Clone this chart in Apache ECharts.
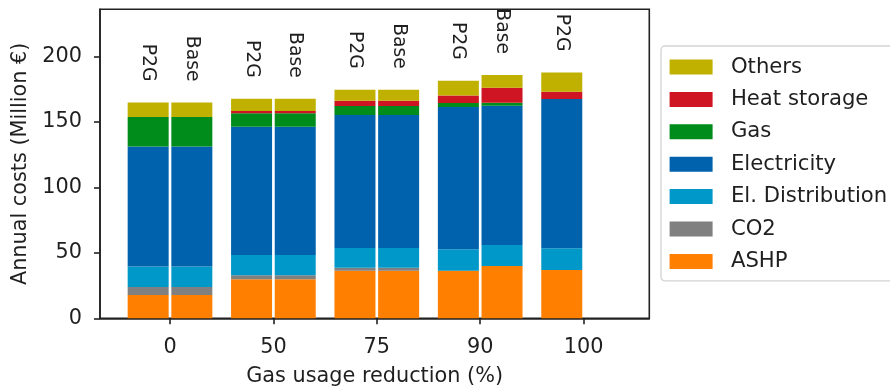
<!DOCTYPE html>
<html>
<head>
<meta charset="utf-8">
<script src="https://cdn.jsdelivr.net/npm/echarts@6/dist/echarts.min.js"></script>
<style>
  html, body { margin: 0; padding: 0; background: #fff; }
  #chart { width: 890px; height: 391px; }
</style>
</head>
<body>
<div id="chart"></div>
<script>
// Gas usage reduction levels (x-axis groups)
const groups = ['0', '50', '75', '90', '100'];

// Scenarios drawn side by side in every group
const scenarios = ['P2G', 'Base'];

// One entry per bar: which group it belongs to and its scenario name
const barGroup = [0, 0, 1, 1, 2, 2, 3, 3, 4];
const barScenario = ['P2G', 'Base', 'P2G', 'Base', 'P2G', 'Base', 'P2G', 'Base', 'P2G'];

// Annual cost components (Million €), one value per bar
const ashp           = [17.8, 17.8, 29.8, 29.8, 36.4, 36.4, 36.4, 40.0, 36.9];
const co2            = [ 6.1,  6.1,  3.1,  3.1,  2.3,  2.3,  0.0,  0.0,  0.0];
const elDistribution = [15.6, 15.6, 15.5, 15.5, 15.0, 15.0, 16.3, 16.0, 16.6];
const electricity    = [91.7, 91.7, 97.9, 97.9,101.5,101.5,108.6,106.3,113.9];
const gas            = [22.6, 22.6, 10.4, 10.4,  6.9,  6.9,  3.1,  2.4,  0.0];
const heatStorage    = [ 0.0,  0.0,  1.6,  1.6,  4.0,  4.0,  5.7, 11.4,  5.6];
const others         = [11.0, 11.0,  9.4,  9.4,  8.4,  8.4, 11.3,  9.7, 14.8];

// Y-axis tick values
const yTicks = [0, 50, 100, 150, 200];

const FONT = 'DejaVu Sans';
const INK = '#1f1f1f';
const Y_MAX = 236;

const components = [
  { name: 'ASHP',             values: ashp,           color: '#ff7f00' },
  { name: 'CO2',              values: co2,            color: '#808080' },
  { name: 'El. Distribution', values: elDistribution, color: '#0098c8' },
  { name: 'Electricity',      values: electricity,    color: '#0062ac' },
  { name: 'Gas',              values: gas,            color: '#008c1a' },
  { name: 'Heat storage',     values: heatStorage,    color: '#cf1523' },
  { name: 'Others',           values: others,         color: '#c0b000' }
];

// Values of one component for one scenario, laid out per group (missing bars stay empty)
function scenarioValues(values, scenario) {
  const out = groups.map(() => '-');
  values.forEach((v, i) => {
    if (barScenario[i] === scenario) out[barGroup[i]] = v;
  });
  return out;
}

const series = [];
scenarios.forEach(scenario => {
  components.forEach((c, idx) => {
    const s = {
      name: c.name,
      type: 'bar',
      stack: scenario,
      xAxisIndex: 0,
      yAxisIndex: 0,
      barWidth: 41,
      barGap: '6.5%',
      data: scenarioValues(c.values, scenario),
      itemStyle: { color: c.color },
      emphasis: { disabled: true }
    };
    if (idx === components.length - 1) {
      // Scenario name written vertically above each bar
      s.label = {
        show: true,
        position: 'top',
        distance: 21,
        rotate: -90,
        align: 'right',
        verticalAlign: 'middle',
        fontFamily: FONT,
        fontSize: 18.75,
        color: INK,
        formatter: () => scenario
      };
    }
    series.push(s);
  });
});

const chart = echarts.init(document.getElementById('chart'), null, { renderer: 'canvas' });
chart.setOption({
  animation: false,
  backgroundColor: '#fff',
  textStyle: { fontFamily: FONT },
  grid: [
    // bar area: category bands centred on the group ticks
    { left: 118.3, right: 254.7, top: 9.3, bottom: 72.7, outerBoundsMode: 'none', show: false },
    // axes frame
    {
      left: 100, right: 240.7, top: 9.3, bottom: 72.7,
      outerBoundsMode: 'none',
      show: true,
      borderColor: '#222',
      borderWidth: 1.6,
      backgroundColor: 'transparent'
    }
  ],
  legend: {
    orient: 'vertical',
    left: 661,
    top: 46,
    padding: [10.5, 12, 9, 8.6],
    itemWidth: 43,
    itemHeight: 15,
    itemGap: 11.4,
    icon: 'rect',
    backgroundColor: '#fff',
    borderColor: '#d3d3d3',
    borderWidth: 1.3,
    borderRadius: 4,
    selectedMode: false,
    data: ['Others', 'Heat storage', 'Gas', 'Electricity', 'El. Distribution', 'CO2', 'ASHP'],
    textStyle: {
      fontFamily: FONT,
      fontSize: 21.2,
      lineHeight: 21,
      color: INK,
      padding: [0, 0, 0, 13.3]
    }
  },
  xAxis: [
    {
      gridIndex: 0,
      type: 'category',
      data: groups,
      axisLine: { show: false },
      axisTick: { show: true, alignWithLabel: true, length: 6, lineStyle: { color: '#222', width: 1.6 } },
      axisLabel: { show: true, margin: 19, fontFamily: FONT, fontSize: 20.8, color: INK },
      splitLine: { show: false }
    },
    {
      gridIndex: 1,
      type: 'value',
      min: 0,
      max: 1,
      name: 'Gas usage reduction (%)',
      nameLocation: 'middle',
      nameGap: 48,
      nameTextStyle: { fontFamily: FONT, fontSize: 20.8, color: INK },
      axisLine: { show: true, lineStyle: { color: '#222', width: 1.6 } },
      axisTick: { show: false },
      axisLabel: { show: false },
      splitLine: { show: false }
    }
  ],
  yAxis: [
    {
      gridIndex: 0,
      type: 'value',
      min: 0,
      max: Y_MAX,
      show: false,
      splitLine: { show: false }
    },
    {
      gridIndex: 1,
      type: 'value',
      min: 0,
      max: Y_MAX,
      name: 'Annual costs (Million €)',
      nameLocation: 'middle',
      nameGap: 60,
      nameTextStyle: { fontFamily: FONT, fontSize: 20.8, color: INK },
      axisLine: { show: true, onZero: false, lineStyle: { color: '#222', width: 1.6 } },
      axisTick: { show: true, length: 6, lineStyle: { color: '#222', width: 1.6 }, customValues: yTicks },
      axisLabel: { show: true, margin: 18, fontFamily: FONT, fontSize: 20.8, color: INK, customValues: yTicks },
      splitLine: { show: false }
    }
  ],
  series: series
});
</script>
</body>
</html>
